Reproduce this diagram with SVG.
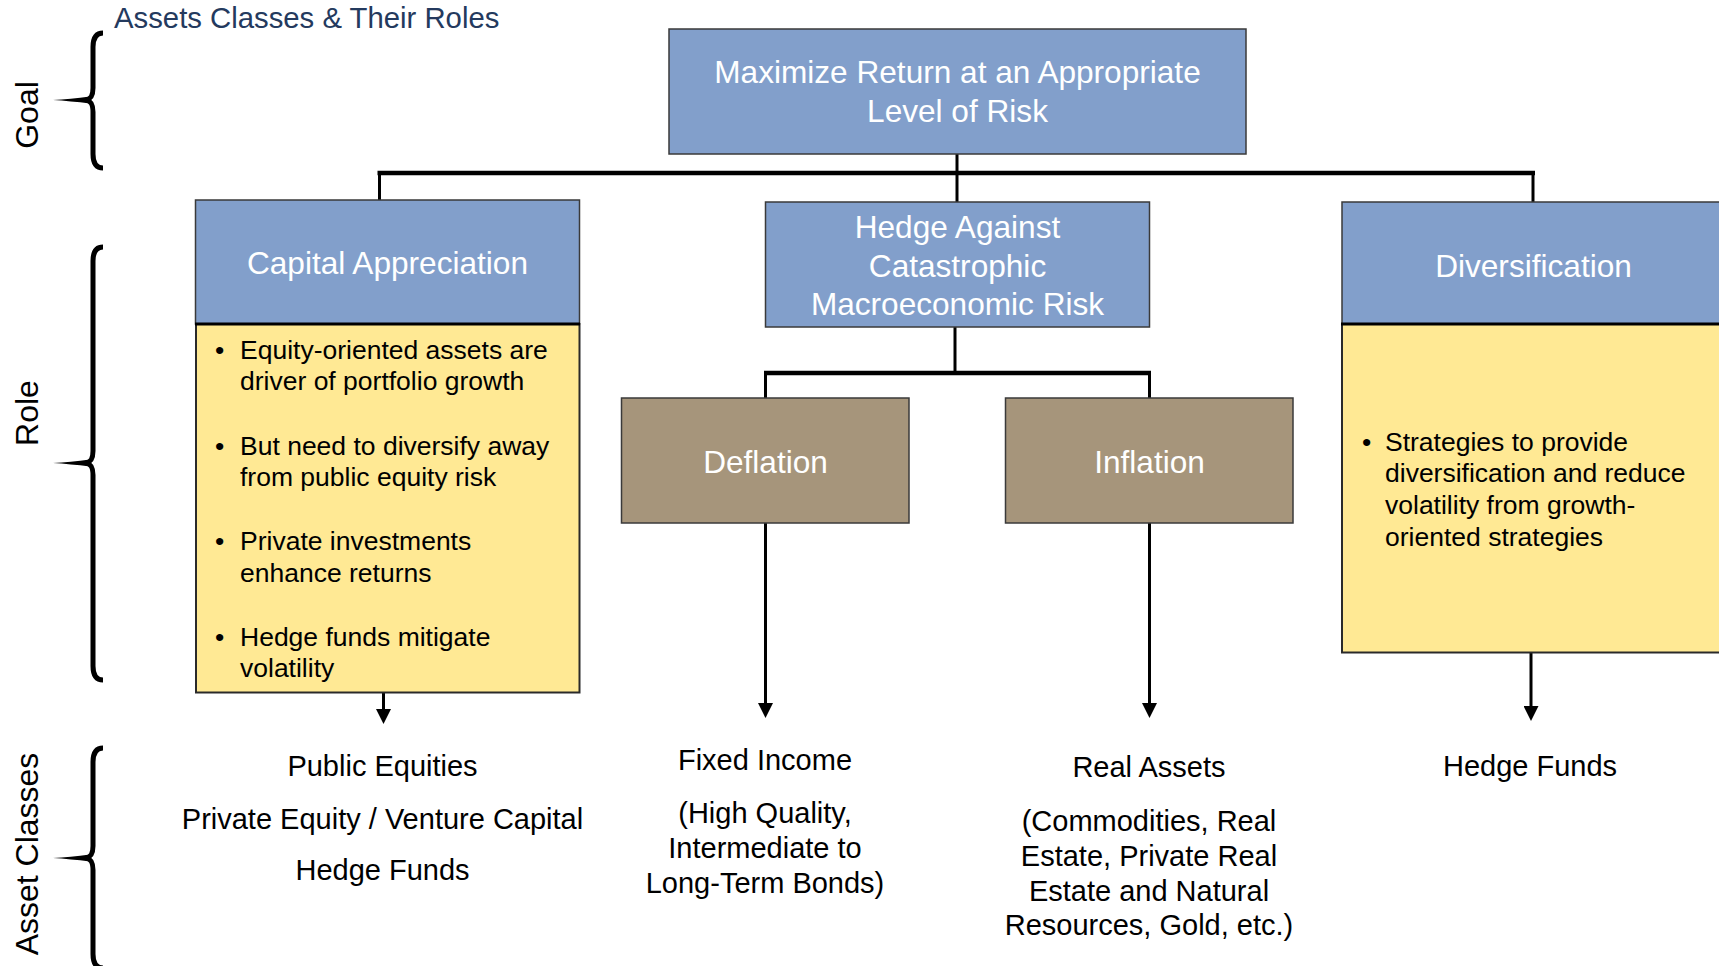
<svg xmlns="http://www.w3.org/2000/svg" width="1719" height="966" viewBox="0 0 1719 966">
  <style>
    text { font-family: "Liberation Sans", Arial, Helvetica, sans-serif; }
    .title { font-size: 29.3px; fill: #243a5e; }
    .side { font-size: 32px; fill: #000; text-anchor: middle; }
    .hdr { font-size: 31.6px; fill: #ffffff; text-anchor: middle; }
    .bul { font-size: 26.5px; fill: #000; }
    .cls { font-size: 29px; fill: #000; text-anchor: middle; }
    .blue { fill: #829fcb; stroke: #3a3a3a; stroke-width: 1.5; }
    .yellow { fill: #ffe994; stroke: #2a2a2a; stroke-width: 2; }
    .tan { fill: #a6957b; stroke: #3a3a3a; stroke-width: 1.5; }
    .wire { fill: none; stroke: #000; stroke-width: 3; }
    .bar { fill: none; stroke: #000; stroke-width: 4.5; }
    .sep { stroke: #000; stroke-width: 3; }
    .brace { fill: none; stroke: #000; stroke-width: 5; }
    .arrow { fill: none; stroke: #000; stroke-width: 3; marker-end: url(#head); }
  </style>
  <defs>
    <marker id="head" viewBox="0 0 15 15" refX="0" refY="7.5" markerWidth="15" markerHeight="15" markerUnits="userSpaceOnUse" orient="auto">
      <path d="M0,0 L15,7.5 L0,15 Z" fill="#000"/>
    </marker>
  </defs>

  <rect width="1719" height="966" fill="#ffffff"/>

  <text class="title" x="114" y="28">Assets Classes &amp; Their Roles</text>

  <!-- row labels with braces -->
  <g id="label-goal">
    <text class="side" transform="translate(37.5,115) rotate(-90)">Goal</text>
    <path class="brace" d="M103,33 C96,33 93,38 93,47 L93,88 C93,96 91,99 86,100 M86,100 C91,101 93,104 93,112 L93,154 C93,163 96,168 103,168"/>
    <path d="M90,96.5 Q70,99 53,100 Q70,101 90,103.5 Z" fill="#000"/>
  </g>
  <g id="label-role">
    <text class="side" transform="translate(37.5,413) rotate(-90)">Role</text>
    <path class="brace" d="M103,247 C96,247 93,252 93,261 L93,451 C93,459 91,462 86,463 M86,463 C91,464 93,467 93,475 L93,666 C93,675 96,680 103,680"/>
    <path d="M90,459.5 Q70,462 53,463 Q70,464 90,466.5 Z" fill="#000"/>
  </g>
  <g id="label-asset-classes">
    <text class="side" transform="translate(37.5,854) rotate(-90)">Asset Classes</text>
    <path class="brace" d="M103,748 C96,748 93,753 93,762 L93,846 C93,854 91,857 86,858 M86,858 C91,859 93,862 93,870 L93,954 C93,963 96,968 103,968"/>
    <path d="M90,854.5 Q70,857 53,858 Q70,859 90,861.5 Z" fill="#000"/>
  </g>

  <!-- connectors -->
  <g id="connectors">
    <line class="wire" x1="957" y1="154" x2="957" y2="202"/>
    <line class="bar" x1="377.5" y1="173" x2="1535" y2="173"/>
    <line class="wire" x1="379.5" y1="173" x2="379.5" y2="200"/>
    <line class="wire" x1="1533" y1="173" x2="1533" y2="202"/>
    <line class="wire" x1="955" y1="327" x2="955" y2="373"/>
    <line class="bar" x1="764" y1="373" x2="1151" y2="373"/>
    <line class="wire" x1="765.5" y1="373" x2="765.5" y2="398"/>
    <line class="wire" x1="1149.5" y1="373" x2="1149.5" y2="398"/>
    <line class="arrow" x1="383.5" y1="693" x2="383.5" y2="709"/>
    <line class="arrow" x1="765.5" y1="523" x2="765.5" y2="703"/>
    <line class="arrow" x1="1149.5" y1="523" x2="1149.5" y2="703"/>
    <line class="arrow" x1="1531" y1="653" x2="1531" y2="706"/>
  </g>

  <g id="goal">
    <rect class="blue" x="669" y="29" width="577" height="125"/>
    <text class="hdr" x="957.5" y="83">Maximize Return at an Appropriate</text>
    <text class="hdr" x="957.5" y="121.5">Level of Risk</text>
  </g>

  <g id="capital-appreciation">
    <rect class="yellow" x="196" y="324" width="383.5" height="368.5"/>
    <rect class="blue" x="195.5" y="200" width="384" height="124"/>
    <line class="sep" x1="195" y1="324" x2="580" y2="324"/>
    <text class="hdr" x="387.5" y="274">Capital Appreciation</text>
    <text class="bul" x="215" y="359">•</text>
    <text class="bul" x="240" y="359">Equity-oriented assets are</text>
    <text class="bul" x="240" y="390">driver of portfolio growth</text>
    <text class="bul" x="215" y="455">•</text>
    <text class="bul" x="240" y="455">But need to diversify away</text>
    <text class="bul" x="240" y="486">from public equity risk</text>
    <text class="bul" x="215" y="550">•</text>
    <text class="bul" x="240" y="550">Private investments</text>
    <text class="bul" x="240" y="581.5">enhance returns</text>
    <text class="bul" x="215" y="646">•</text>
    <text class="bul" x="240" y="646">Hedge funds mitigate</text>
    <text class="bul" x="240" y="677">volatility</text>
  </g>

  <g id="hedge-catastrophic">
    <rect class="blue" x="765.5" y="202" width="384" height="125"/>
    <text class="hdr" x="957.5" y="238">Hedge Against</text>
    <text class="hdr" x="957.5" y="276.5">Catastrophic</text>
    <text class="hdr" x="957.5" y="315">Macroeconomic Risk</text>
  </g>

  <g id="deflation">
    <rect class="tan" x="621.5" y="398" width="287.5" height="125"/>
    <text class="hdr" x="765.5" y="472.5">Deflation</text>
  </g>

  <g id="inflation">
    <rect class="tan" x="1005.5" y="398" width="287.5" height="125"/>
    <text class="hdr" x="1149.5" y="472.5">Inflation</text>
  </g>

  <g id="diversification">
    <rect class="yellow" x="1342" y="324" width="390" height="328.5"/>
    <rect class="blue" x="1342" y="202" width="390" height="122"/>
    <line class="sep" x1="1341" y1="324" x2="1719" y2="324"/>
    <text class="hdr" x="1533.5" y="276.5">Diversification</text>
    <text class="bul" x="1362" y="450.5">•</text>
    <text class="bul" x="1385" y="450.5">Strategies to provide</text>
    <text class="bul" x="1385" y="482">diversification and reduce</text>
    <text class="bul" x="1385" y="513.5">volatility from growth-</text>
    <text class="bul" x="1385" y="545.5">oriented strategies</text>
  </g>

  <g id="class-growth">
    <text class="cls" x="382.5" y="775.5">Public Equities</text>
    <text class="cls" x="382.5" y="828.5">Private Equity / Venture Capital</text>
    <text class="cls" x="382.5" y="880">Hedge Funds</text>
  </g>

  <g id="class-fixed-income">
    <text class="cls" x="765" y="769.5">Fixed Income</text>
    <text class="cls" x="765" y="822.5">(High Quality,</text>
    <text class="cls" x="765" y="857.5">Intermediate to</text>
    <text class="cls" x="765" y="892.5">Long-Term Bonds)</text>
  </g>

  <g id="class-real-assets">
    <text class="cls" x="1149" y="776.5">Real Assets</text>
    <text class="cls" x="1149" y="830.5">(Commodities, Real</text>
    <text class="cls" x="1149" y="865.5">Estate, Private Real</text>
    <text class="cls" x="1149" y="900.5">Estate and Natural</text>
    <text class="cls" x="1149" y="934.5">Resources, Gold, etc.)</text>
  </g>

  <g id="class-hedge-funds">
    <text class="cls" x="1530" y="775.5">Hedge Funds</text>
  </g>
</svg>
